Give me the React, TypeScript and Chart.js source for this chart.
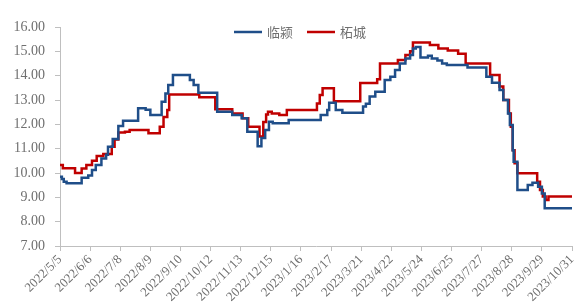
import React, { useEffect, useRef } from 'react';
import { Chart, registerables } from 'chart.js';

Chart.register(...registerables);

// x-axis tick labels: one every 32 days starting 2022/5/5
const tickLabels = [
  '2022/5/5', '2022/6/6', '2022/7/8', '2022/8/9', '2022/9/10', '2022/10/12',
  '2022/11/13', '2022/12/15', '2023/1/16', '2023/2/17', '2023/3/21', '2023/4/22',
  '2023/5/24', '2023/6/25', '2023/7/27', '2023/8/28', '2023/9/29', '2023/10/31',
];
const tickStepDays = 32;
const lastDay = 544;

const seriesNames = ['临颍', '柘城'];

// 临颍: day offset (from 2022/5/5) where the price changes, and the new price
const linyingDays = [
  0, 2, 4, 7, 23, 30, 34, 38, 44, 49, 51, 56, 62, 67, 83, 91, 96, 108, 112, 115,
  120, 138, 142, 147, 167, 183, 193, 199, 210, 214, 218, 222, 226, 243, 277, 284,
  286, 293, 300, 322, 325, 329, 335, 345, 351, 356, 361, 367, 372, 375, 378, 383,
  391, 395, 401, 406, 411, 433, 453, 459, 467, 471, 476, 478, 481, 482, 486, 497,
  502, 508, 512, 515,
];
const linyingPrices = [
  9.85, 9.75, 9.64, 9.58, 9.8, 9.9, 10.12, 10.33, 10.6, 10.75, 11.08, 11.4, 11.93,
  12.15, 12.66, 12.6, 12.38, 12.93, 13.27, 13.62, 14.03, 13.82, 13.62, 13.3, 12.52,
  12.38, 12.25, 11.7, 11.1, 11.44, 11.77, 12.11, 12.04, 12.18, 12.38, 12.59, 12.89,
  12.59, 12.48, 12.73, 12.85, 13.14, 13.34, 13.82, 13.96, 14.23, 14.5, 14.71, 14.85,
  15.12, 15.18, 14.75, 14.82, 14.71, 14.62, 14.5, 14.44, 14.34, 13.96, 13.71, 13.41,
  13.0, 12.45, 11.97, 10.94, 10.46, 9.3, 9.51, 9.6, 9.44, 9.16, 8.55,
];

// 柘城
const zhechengDays = [
  0, 3, 16, 23, 28, 34, 39, 46, 55, 58, 62, 69, 74, 94, 106, 110, 114, 116, 148,
  165, 183, 194, 200, 212, 216, 219, 221, 225, 233, 241, 273, 276, 279, 291, 319,
  337, 340, 359, 367, 372, 375, 393, 402, 412, 423, 431, 457, 467, 471, 477, 479,
  481, 483, 486, 507, 510, 513, 516, 519,
];
const zhechengPrices = [
  10.33, 10.2, 10.0, 10.19, 10.33, 10.5, 10.7, 10.78, 11.08, 11.38, 11.66, 11.7,
  11.77, 11.63, 11.9, 12.3, 12.59, 13.23, 13.11, 12.62, 12.45, 12.25, 11.9, 11.5,
  12.1, 12.4, 12.52, 12.45, 12.38, 12.59, 12.86, 13.21, 13.48, 12.95, 13.7, 13.85,
  14.5, 14.64, 14.85, 15.0, 15.36, 15.26, 15.12, 15.03, 14.9, 14.5, 14.03, 13.55,
  13.0, 12.45, 11.9, 10.94, 10.4, 9.99, 9.64, 9.3, 9.03, 8.89, 9.03,
];

const yMin = 7;
const yMax = 16;

const toPoints = (days: number[], prices: number[]) => {
  const pts = days.map((d, i) => ({ x: d, y: prices[i] }));
  pts.push({ x: lastDay, y: prices[prices.length - 1] });
  return pts;
};

const TEXT_COLOR = '#6f6f6f';
const AXIS_COLOR = '#bfbfbf';

const inlineLegend = {
  id: 'inlineLegend',
  afterDraw(chart: any) {
    const ctx = chart.ctx;
    ctx.save();
    ctx.font = '13px "Noto Sans CJK SC"';
    const lineLen = 28;
    const gap = 5;
    const itemGap = 14;
    const items = chart.data.datasets.map((ds: any) => ({
      label: ds.label,
      color: ds.borderColor,
      w: lineLen + gap + ctx.measureText(ds.label).width,
    }));
    const total = items.reduce((s: number, it: any) => s + it.w, 0) + itemGap * (items.length - 1);
    let x = 300 - total / 2;
    const y = 32;
    items.forEach((it: any) => {
      ctx.strokeStyle = it.color;
      ctx.lineWidth = 2.5;
      ctx.beginPath();
      ctx.moveTo(x, y);
      ctx.lineTo(x + lineLen, y);
      ctx.stroke();
      ctx.fillStyle = TEXT_COLOR;
      ctx.textBaseline = 'middle';
      ctx.textAlign = 'left';
      ctx.fillText(it.label, x + lineLen + gap, y);
      x += it.w + itemGap;
    });
    ctx.restore();
  },
};

export default function App() {
  const canvasRef = useRef<HTMLCanvasElement | null>(null);

  useEffect(() => {
    if (!canvasRef.current) return;
    const chart = new Chart(canvasRef.current, {
      type: 'line',
      data: {
        datasets: [
          {
            label: seriesNames[0],
            data: toPoints(linyingDays, linyingPrices),
            borderColor: '#1f4e89',
            borderWidth: 2.5,
            stepped: true,
            pointRadius: 0,
            fill: false,
          },
          {
            label: seriesNames[1],
            data: toPoints(zhechengDays, zhechengPrices),
            borderColor: '#c00000',
            borderWidth: 2.5,
            stepped: true,
            pointRadius: 0,
            fill: false,
          },
        ],
      },
      options: {
        animation: false,
        responsive: false,
        layout: { padding: { top: 27, right: 2, left: 0, bottom: 0 } },
        plugins: {
          legend: { display: false },
          tooltip: { enabled: false },
        },
        scales: {
          x: {
            type: 'linear',
            min: 0,
            max: lastDay,
            grid: { drawOnChartArea: false, drawTicks: true, tickLength: 5, color: AXIS_COLOR },
            border: { color: AXIS_COLOR },
            ticks: {
              stepSize: tickStepDays,
              autoSkip: false,
              maxRotation: 45,
              minRotation: 45,
              padding: 1,
              color: TEXT_COLOR,
              font: { family: '"Liberation Serif"', size: 13 },
              callback: (v: any) => tickLabels[Math.round(Number(v) / tickStepDays)] ?? '',
            },
            afterFit: (s: any) => {
              s.height = 57;
              s.paddingLeft = 0;
              s.paddingRight = 0;
            },
          },
          y: {
            min: yMin,
            max: yMax,
            grid: { drawOnChartArea: false, drawTicks: true, tickLength: 5, color: AXIS_COLOR },
            border: { color: AXIS_COLOR },
            ticks: {
              stepSize: 1,
              padding: 10,
              color: TEXT_COLOR,
              font: { family: '"Liberation Serif"', size: 14 },
              callback: (v: any) => Number(v).toFixed(2),
            },
            afterFit: (s: any) => {
              s.width = 60;
              s.paddingTop = 0;
              s.paddingBottom = 0;
            },
          },
        },
      },
      plugins: [inlineLegend],
    });
    return () => chart.destroy();
  }, []);

  return (
    <div style={{ position: 'absolute', left: 0, top: 0, width: 574, height: 303, background: '#fff' }}>
      <canvas ref={canvasRef} width={574} height={303} style={{ display: 'block' }} />
    </div>
  );
}
